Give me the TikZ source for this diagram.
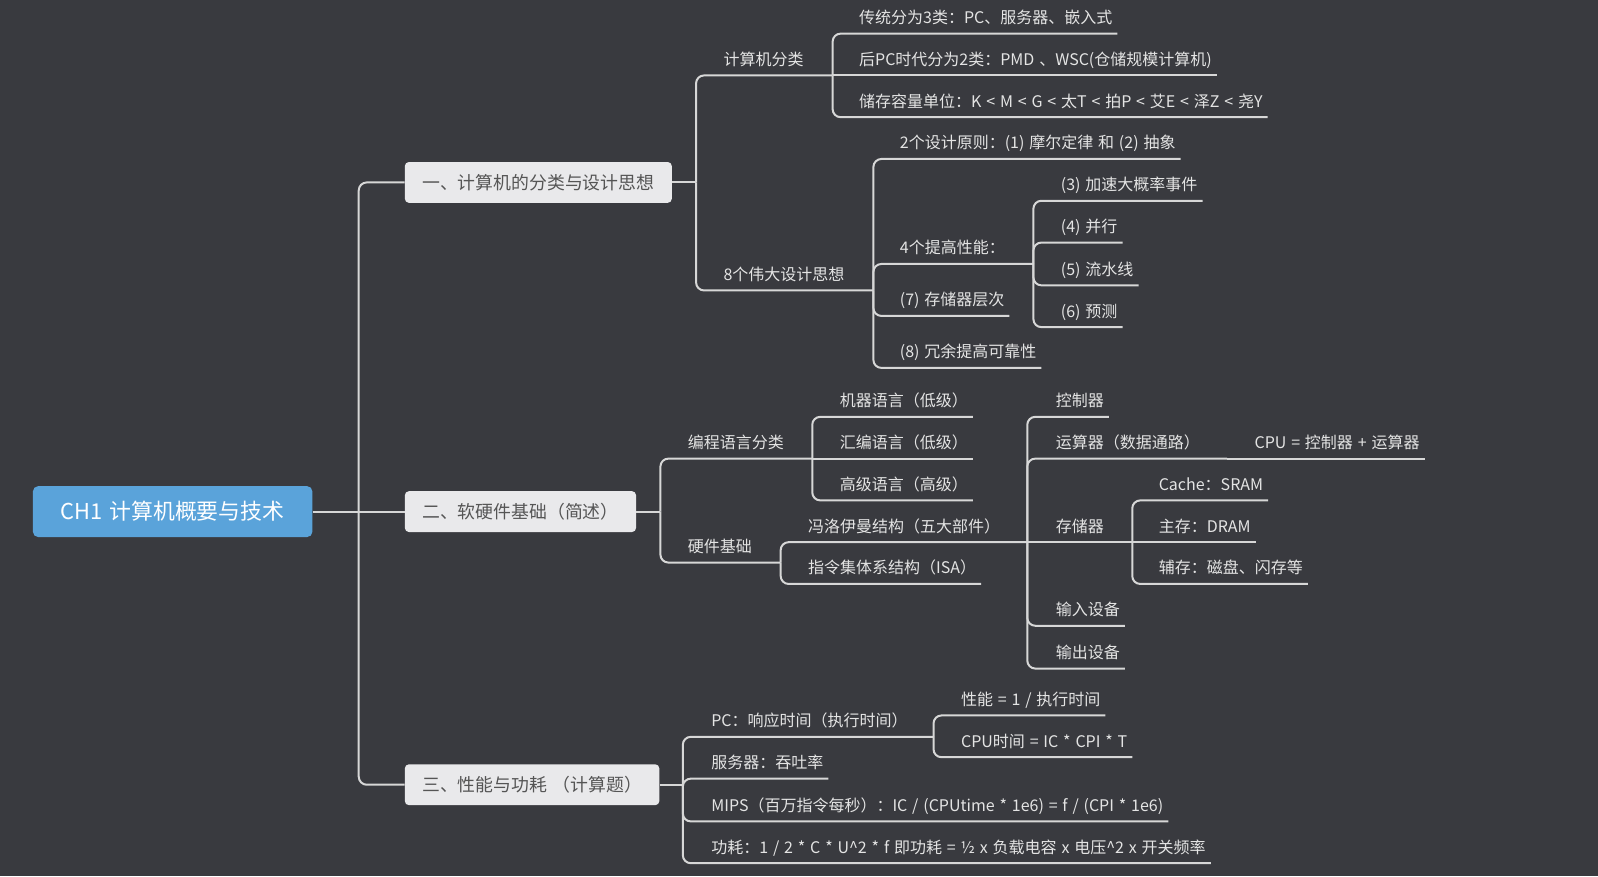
\documentclass[tikz,border=0pt]{standalone}
\usepackage{fontspec}
\newfontfamily\cjk[WordSpace=1.35]{Noto Sans CJK SC}
\definecolor{bgc}{RGB}{57,58,63}
\definecolor{linec}{RGB}{215,215,215}
\definecolor{leafc}{RGB}{228,228,228}
\definecolor{boxc}{RGB}{233,233,235}
\definecolor{boxt}{RGB}{85,85,85}
\definecolor{rootc}{RGB}{90,163,218}
\newcommand\lf[5]{\node[leaf] (#1) at (#3,#4) {#5};\draw[conn] (#2) |- ([xshift=3.8pt]#1.south east);}
\newcommand\lfs[5]{\node[leaf] (#1) at (#3,#4) {#5};\draw[conn] (#2) -- ([xshift=3.8pt]#1.south east);}
\begin{document}
\begin{tikzpicture}[x=0.7644pt,y=-0.7644pt,
 conn/.style={draw=linec,line width=1.5pt,rounded corners=6pt},
 leaf/.style={anchor=south west,inner sep=0pt,outer sep=0pt,text depth=7.6pt,text=leafc,font=\cjk\fontsize{12pt}{14pt}\selectfont},
 l1/.style={anchor=west,rounded corners=3pt,fill=boxc,text=boxt,inner xsep=13pt,inner ysep=0pt,minimum height=30.6pt,font=\cjk\fontsize{13.4pt}{16pt}\selectfont},
 rootbox/.style={anchor=west,rounded corners=4pt,fill=rootc,text=white,inner xsep=21pt,inner ysep=0pt,minimum height=38.2pt,font=\cjk\fontsize{16.4pt}{19pt}\selectfont}]
\fill[bgc] (0,0) rectangle (1568,860);
\useasboundingbox (0,0) rectangle (1568,860);

\node[rootbox] (root) at (32,502) {CH1 计算机概要与技术};
\coordinate (J0) at (352,502);
\draw[conn] (root.east) -- (J0);
\node[l1] (A) at (397,179) {一、计算机的分类与设计思想};
\node[l1] (B) at (397,502) {二、软硬件基础（简述）};
\node[l1] (C) at (397,770) {三、性能与功耗 （计算题）};
\draw[conn] (J0) |- (A.west);
\draw[conn] (J0) -- (B.west);
\draw[conn] (J0) |- (C.west);

% A
\coordinate (Ja) at (683,179);
\draw[conn] (A.east) -- (Ja);
\node[leaf] (cls) at (710,74) {计算机分类};
\coordinate (Jcls) at (817,74);
\draw[conn] (Ja) |- (Jcls);
\lf{c1}{Jcls}{843}{33}{传统分为3类：PC、服务器、嵌入式}
\lfs{c2}{Jcls}{843}{74}{后PC时代分为2类：PMD 、WSC(仓储规模计算机)}
\lf{c3}{Jcls}{843}{115}{储存容量单位：K < M < G < 太T < 拍P < 艾E < 泽Z < 尧Y}
\node[leaf] (idea) at (710,285) {8个伟大设计思想};
\coordinate (Jidea) at (857,285);
\draw[conn] (Ja) |- (Jidea);
\lf{i1}{Jidea}{883}{156}{2个设计原则：(1) 摩尔定律 和 (2) 抽象}
\node[leaf] (i2) at (883,259) {4个提高性能：};
\coordinate (Jperf) at (1014,259);
\draw[conn] (Jidea) |- (Jperf);
\lf{p3}{Jperf}{1041}{197}{(3) 加速大概率事件}
\lf{p4}{Jperf}{1041}{238}{(4) 并行}
\lf{p5}{Jperf}{1041}{280}{(5) 流水线}
\lf{p6}{Jperf}{1041}{321}{(6) 预测}
\lf{i7}{Jidea}{883}{310}{(7) 存储器层次}
\lf{i8}{Jidea}{883}{361}{(8) 冗余提高可靠性}

% B
\coordinate (Jb) at (648,502);
\draw[conn] (B.east) -- (Jb);
\node[leaf] (lang) at (675,450) {编程语言分类};
\coordinate (Jlang) at (797,450);
\draw[conn] (Jb) |- (Jlang);
\lf{l1}{Jlang}{824}{409}{机器语言（低级）}
\lfs{l2}{Jlang}{824}{450}{汇编语言（低级）}
\lf{l3}{Jlang}{824}{491}{高级语言（高级）}
\node[leaf] (hw) at (675,552) {硬件基础};
\coordinate (Jhw) at (766,552);
\draw[conn] (Jb) |- (Jhw);
\node[leaf] (vn) at (793,532) {冯洛伊曼结构（五大部件）};
\coordinate (Jvn) at (1008,532);
\draw[conn] (Jhw) |- (Jvn);
\lf{isa}{Jhw}{793}{573}{指令集体系结构（ISA）}
\lf{v1}{Jvn}{1036}{409}{控制器}
\node[leaf] (v2) at (1036,450) {运算器（数据通路）};
\coordinate (Jalu) at (1204,450);
\draw[conn] (Jvn) |- (Jalu);
\lfs{cpu}{Jalu}{1231}{450}{CPU = 控制器 + 运算器}
\node[leaf] (v3) at (1036,532) {存储器};
\coordinate (Jmem) at (1111,532);
\draw[conn] (Jvn) -- (Jmem);
\lf{m1}{Jmem}{1137}{491}{Cache：SRAM}
\lfs{m2}{Jmem}{1137}{532}{主存：DRAM}
\lf{m3}{Jmem}{1137}{573}{辅存：磁盘、闪存等}
\lf{v4}{Jvn}{1036}{614}{输入设备}
\lf{v5}{Jvn}{1036}{656}{输出设备}

% C
\coordinate (Jc) at (670,770);
\draw[conn] (C.east) -- (Jc);
\node[leaf] (pc) at (698,723) {PC：响应时间（执行时间）};
\coordinate (Jpc) at (916,723);
\draw[conn] (Jc) |- (Jpc);
\lf{q1}{Jpc}{943}{702}{性能 = 1 / 执行时间}
\lf{q2}{Jpc}{943}{743}{CPU时间 = IC * CPI * T}
\lf{srv}{Jc}{698}{764}{服务器：吞吐率}
\lf{mips}{Jc}{698}{806}{MIPS（百万指令每秒）：IC / (CPUtime * 1e6) = f / (CPI * 1e6)}
\lf{pwr}{Jc}{698}{847}{功耗：1 / 2 * C * U\textasciicircum 2 * f 即功耗 = ½ x 负载电容 x 电压\textasciicircum 2 x 开关频率}
\end{tikzpicture}
\end{document}
